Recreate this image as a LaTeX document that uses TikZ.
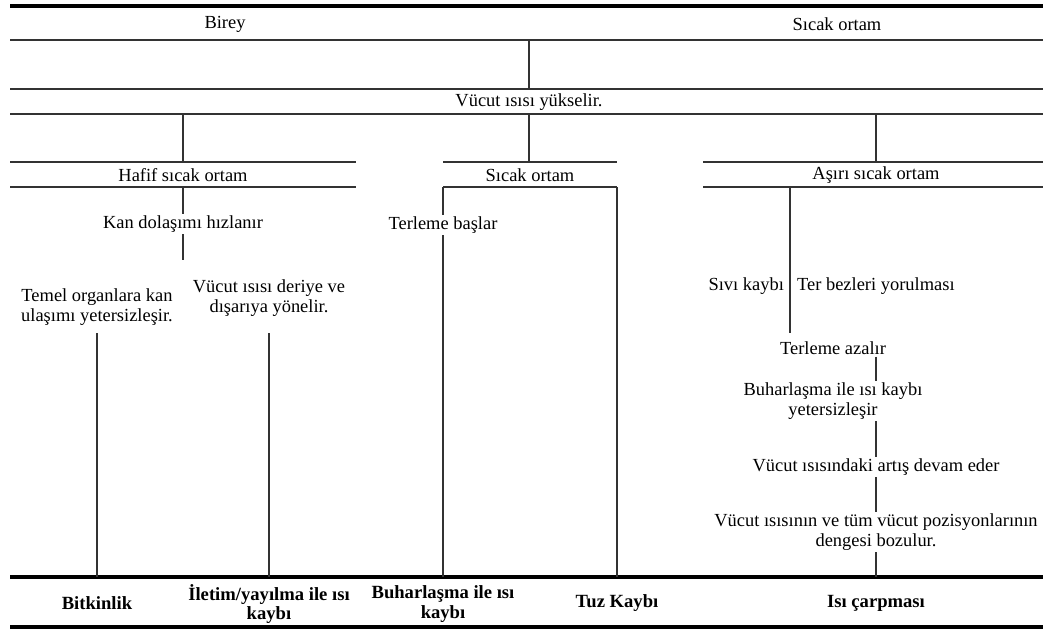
\documentclass[tikz,border=0pt]{standalone}
\usepackage{fontspec}
\setmainfont{Liberation Serif}
\begin{document}
\begin{tikzpicture}[x=0.02cm,y=-0.02cm,
  txt/.style={align=center,inner sep=1pt,font=\fontsize{10.5}{11}\selectfont},
  res/.style={txt,font=\bfseries\fontsize{10.6}{11}\selectfont},
  rule/.style={line width=1.1pt,black!80},
  bold rule/.style={line width=1.8pt},
  link/.style={line width=1pt,black!80}]
\useasboundingbox (0,0) rectangle (1043,630);
\draw[bold rule] (10,6)--(1043,6);
\draw[rule,line width=1.5pt] (10,40)--(1043,40);
\draw[rule] (10,89)--(1043,89);
\draw[rule] (10,114)--(1043,114);
\draw[rule] (10,162)--(356,162) (443,162)--(617,162) (703,162)--(1043,162);
\draw[rule] (10,187)--(356,187) (443,187)--(617,187) (703,187)--(1043,187);
\draw[bold rule] (10,577)--(1043,577);
\draw[bold rule] (10,627)--(1043,627);

\node[txt] (birey) at (225,24) {Birey};
\node[txt] (sicak) at (837,24) {Sıcak ortam};
\node[txt] (yuksel) at (529,102) {Vücut ısısı yükselir.};
\node[txt] (hafif) at (183,175) {Hafif sıcak ortam};
\node[txt] (orta) at (530,175) {Sıcak ortam};
\node[txt] (asiri) at (876,175) {Aşırı sıcak ortam};
\node[txt] (kan) at (183,224) {Kan dolaşımı hızlanır};
\node[txt] (organ) at (97,307) {Temel organlara kan\\ulaşımı yetersizleşir.};
\node[txt] (deri) at (269,298) {Vücut ısısı deriye ve\\dışarıya yönelir.};
\node[txt] (terle) at (443,225) {Terleme başlar};
\node[txt,anchor=east] (sivi) at (786,286) {Sıvı kaybı};
\node[txt,anchor=west] (bez) at (795,286) {Ter bezleri yorulması};
\node[txt] (azal) at (833,348) {Terleme azalır};
\node[txt] (buhar) at (833,401) {Buharlaşma ile ısı kaybı\\yetersizleşir};
\node[txt] (artis) at (876,467) {Vücut ısısındaki artış devam eder};
\node[txt] (denge) at (876,532) {Vücut ısısının ve tüm vücut pozisyonlarının\\dengesi bozulur.};

\node[res] (bitkin) at (97,603) {Bitkinlik};
\node[res] (iletim) at (269,604) {İletim/yayılma ile ısı\\kaybı};
\node[res] (buhkay) at (443,604) {Buharlaşma ile ısı\\kaybı};
\node[res] (tuz) at (617,603) {Tuz Kaybı};
\node[res] (carp) at (876,603) {Isı çarpması};

\coordinate (kanend) at (183,260);
\draw[link] (529,40)--(529,89);
\draw[link] (hafif |- 0,114)--(hafif |- 0,162);
\draw[link] (yuksel |- 0,114)--(yuksel |- 0,162);
\draw[link] (asiri |- 0,114)--(asiri |- 0,162);
\draw[link] (hafif |- 0,187)--(kan);
\draw[link] (kan)--(kanend);
\draw[link] (bitkin |- 0,333)--(bitkin |- 0,577);
\draw[link] (iletim |- 0,333)--(iletim |- 0,577);
\draw[link] (terle |- 0,187)--(terle);
\draw[link] (terle)--(buhkay |- 0,577);
\draw[link] (tuz |- 0,187)--(tuz |- 0,577);
\draw[link] (790,187)--(790,333);
\draw[link] (azal.south -| carp)--(buhar.north -| carp);
\draw[link] (buhar.south -| carp)--(artis);
\draw[link] (artis)--(denge);
\draw[link] (denge)--(carp |- 0,577);
\end{tikzpicture}
\end{document}
